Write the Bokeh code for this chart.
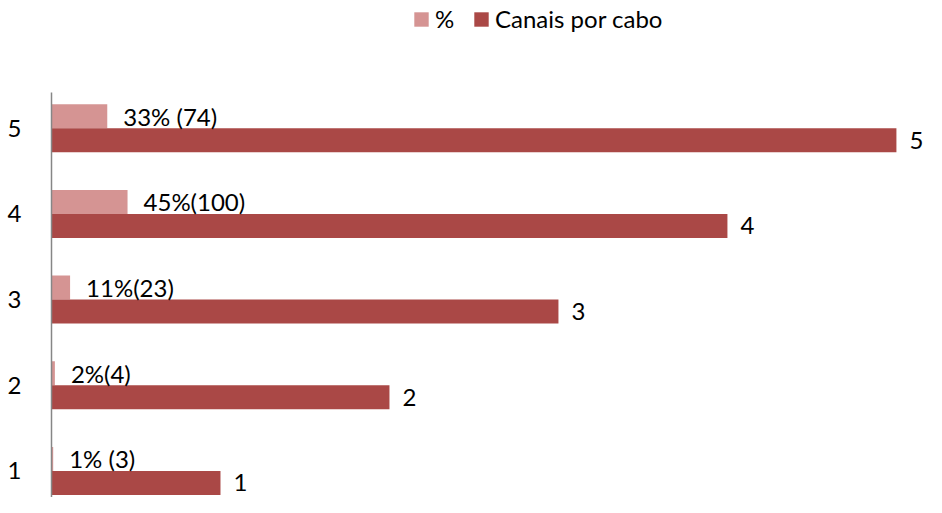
from bokeh.plotting import figure
from bokeh.models import ColumnDataSource, Range1d, FixedTicker, Legend, LegendItem
from bokeh.core.properties import value
from bokeh.embed import file_html
from bokeh.resources import INLINE

# ---- data ----
categories = [1, 2, 3, 4, 5]
tick_labels = ["1", "2", "3", "4", "5"]
pct_values = [0.01, 0.02, 0.11, 0.45, 0.33]
pct_labels = ["1% (3)", "2%(4)", "11%(23)", "45%(100)", "33% (74)"]
canais_values = [1, 2, 3, 4, 5]
canais_labels = ["1", "2", "3", "4", "5"]
series_names = ["%", "Canais por cabo"]

# ---- style ----
LIGHT = "#D59493"
DARK = "#AA4846"
FONT = "Lato"
FS = "24px"
BAR_H = 0.28
Y_LOW, Y_AXIS_TOP, Y_TOP = 0.69, 5.417, 6.491

pct_src = ColumnDataSource(dict(
    y=[c + BAR_H / 2 for c in categories], x=pct_values, label=pct_labels))
can_src = ColumnDataSource(dict(
    y=[c - BAR_H / 2 for c in categories], x=canais_values, label=canais_labels))

p = figure(width=926, height=497, output_backend="svg", toolbar_location=None,
           x_range=Range1d(0, 5.178), y_range=Range1d(Y_LOW, Y_TOP),
           min_border_left=51, min_border_right=0, min_border_bottom=0,
           min_border_top=0)
p.outline_line_color = None
p.xgrid.visible = False
p.ygrid.visible = False
p.xaxis.visible = False

r_pct = p.hbar(y="y", right="x", left=0, height=BAR_H, source=pct_src,
               fill_color=LIGHT, line_color=None)
r_can = p.hbar(y="y", right="x", left=0, height=BAR_H, source=can_src,
               fill_color=DARK, line_color=None)

p.text(x="x", y="y", text="label", source=pct_src, x_offset=16,
       text_font=value(FONT), text_font_size=FS, text_baseline="middle",
       text_align="left", text_color="#000000")
p.text(x="x", y="y", text="label", source=can_src, x_offset=13,
       text_font=value(FONT), text_font_size=FS, text_baseline="middle",
       text_align="left", text_color="#000000")

yax = p.yaxis[0]
yax.bounds = (Y_LOW, Y_AXIS_TOP)
yax.ticker = FixedTicker(ticks=categories)
yax.major_label_overrides = {c: t for c, t in zip(categories, tick_labels)}
yax.major_tick_line_color = None
yax.major_tick_out = 0
yax.major_tick_in = 0
yax.minor_tick_line_color = None
yax.minor_tick_out = 0
yax.axis_line_color = "#868686"
yax.axis_line_width = 1.5
yax.major_label_text_font = FONT
yax.major_label_text_font_size = FS
yax.major_label_text_color = "#000000"
yax.major_label_standoff = 30

legend = Legend(items=[LegendItem(label=series_names[0], renderers=[r_pct]),
                       LegendItem(label=series_names[1], renderers=[r_can])],
                orientation="horizontal", location=(361, 464),
                glyph_width=18, glyph_height=18, label_standoff=5, spacing=17,
                padding=0, margin=0, border_line_color=None,
                background_fill_alpha=0, label_text_font=FONT,
                label_text_font_size=FS, label_text_color="#000000",
                label_height=28)
p.add_layout(legend, "center")

open("out.html", "w").write(file_html(p, INLINE))
